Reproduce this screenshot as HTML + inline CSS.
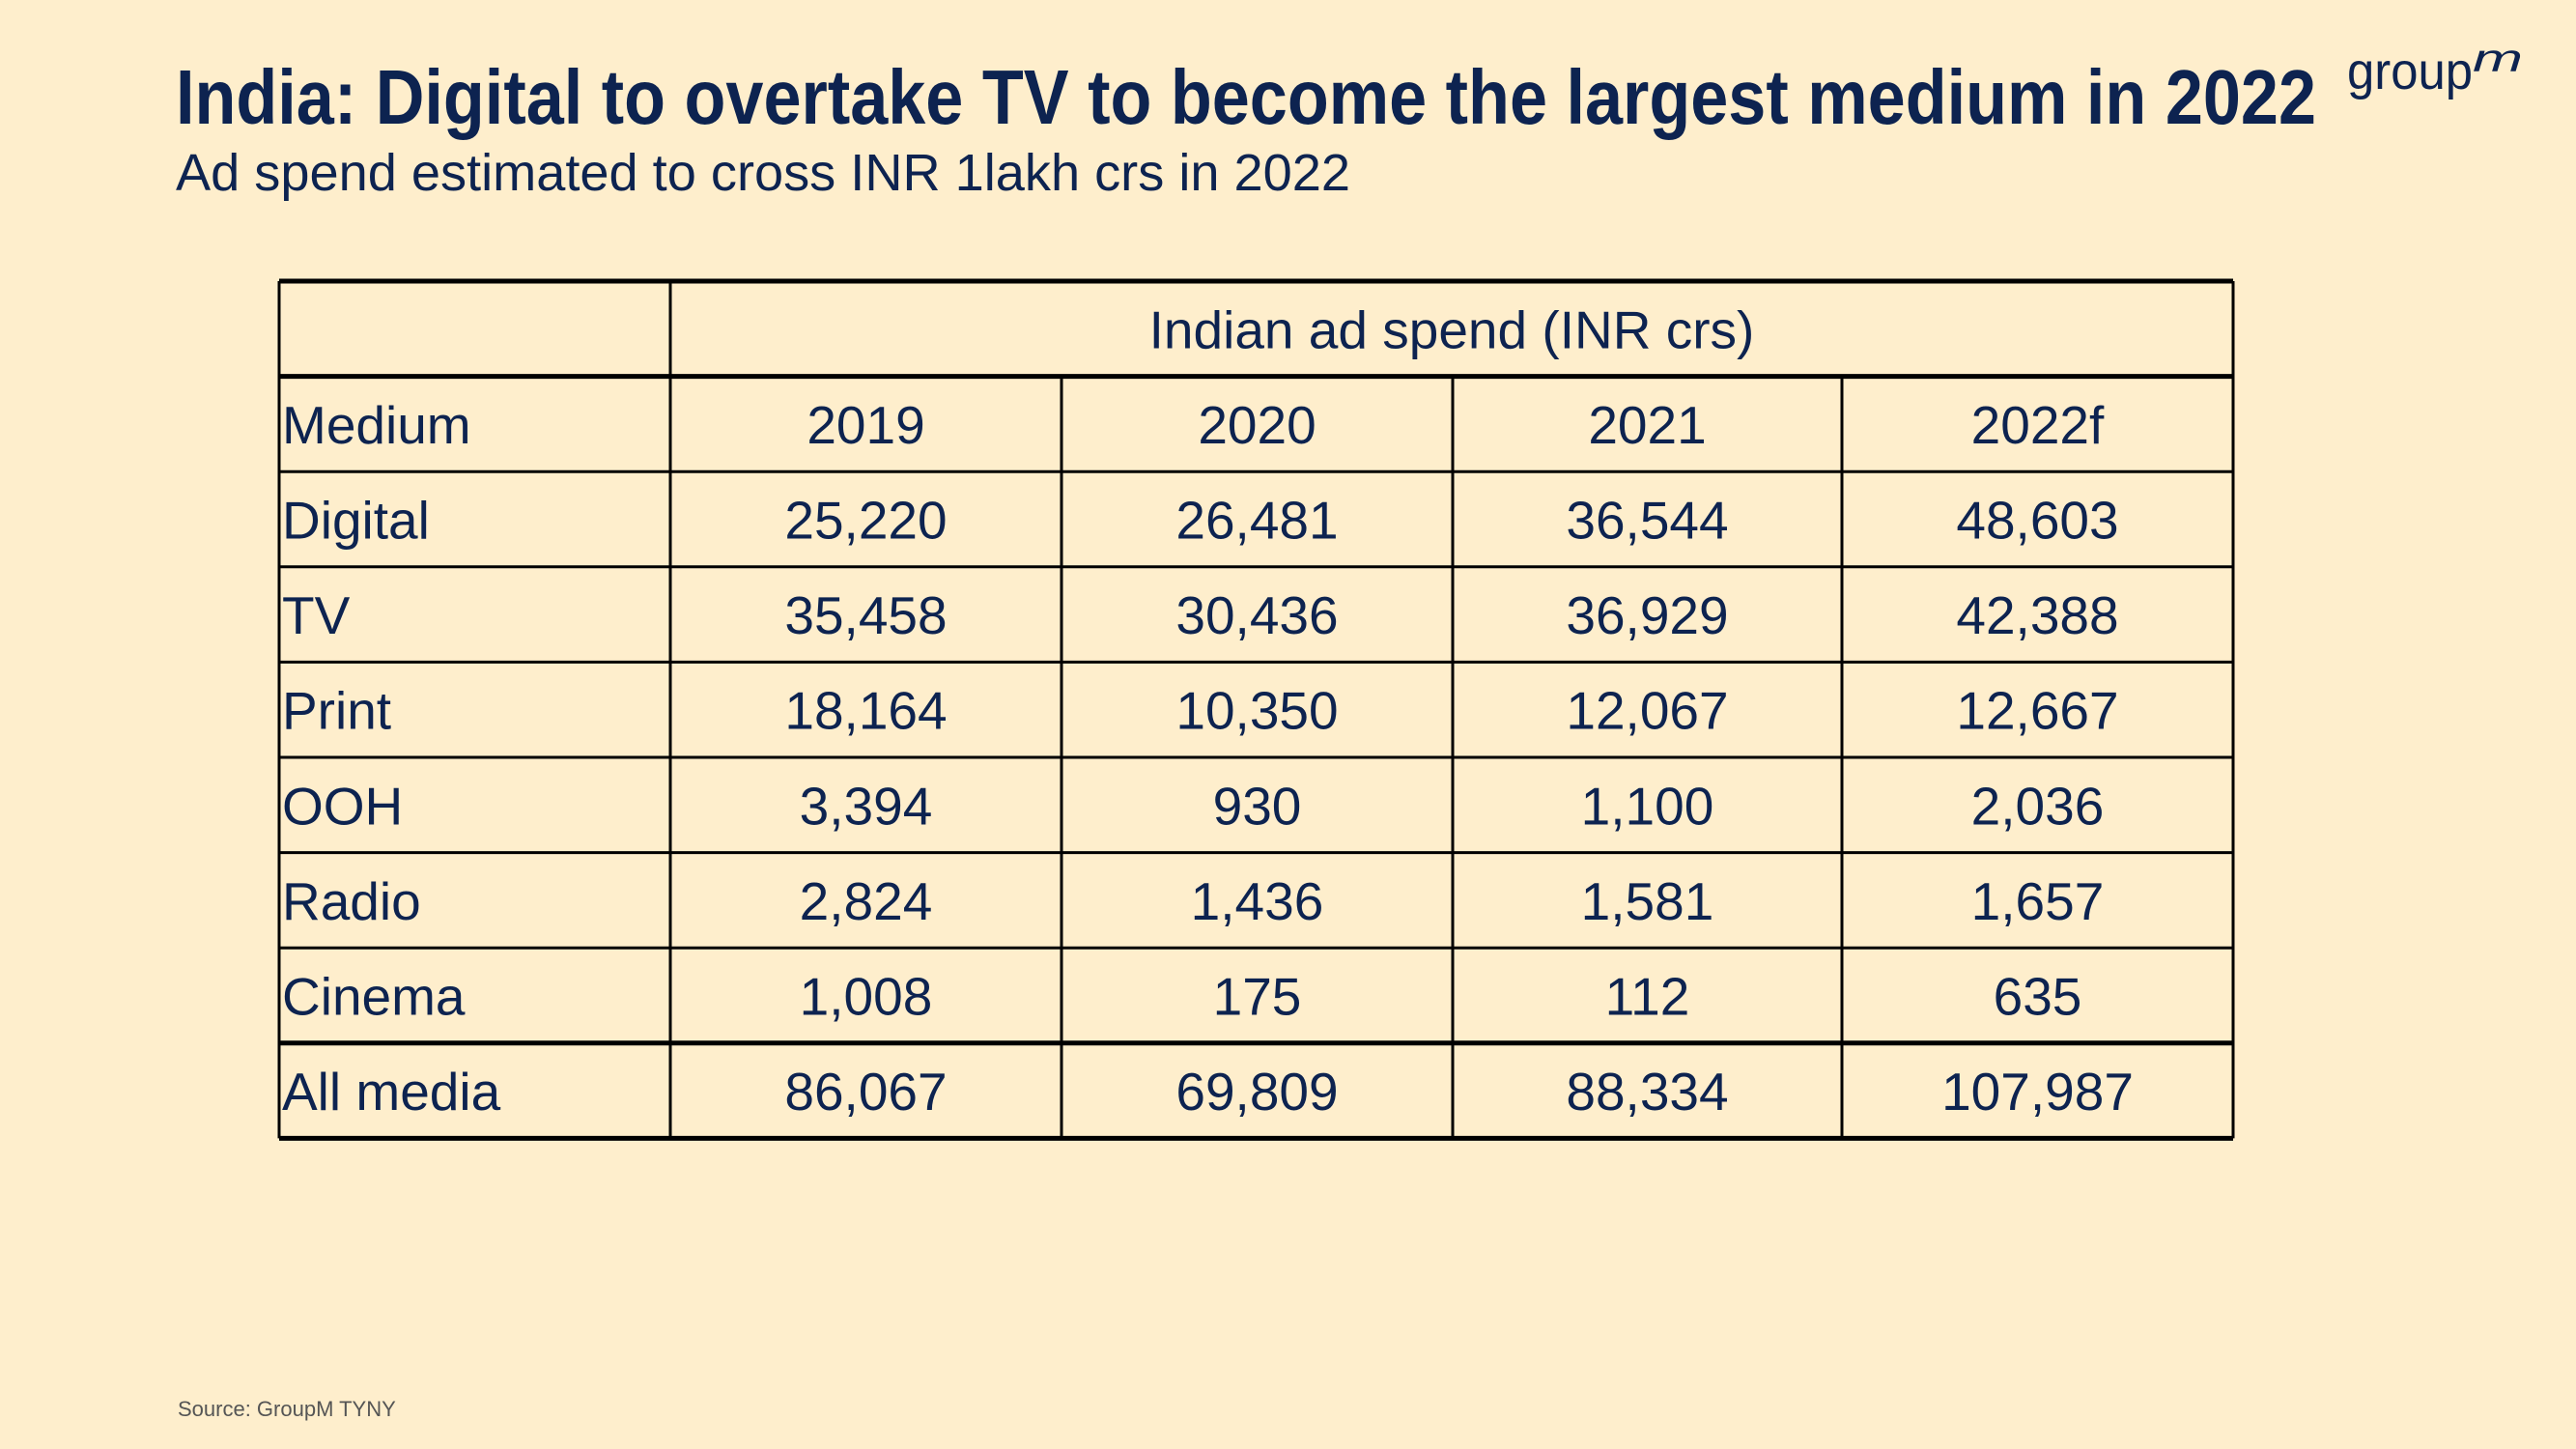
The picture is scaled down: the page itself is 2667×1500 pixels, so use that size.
<!DOCTYPE html>
<html><head><meta charset="utf-8"><style>
html,body{margin:0;padding:0;background:#feeecc;}
svg{display:block;}
</style></head><body>
<svg id="chart" width="2667" height="1500" viewBox="0 0 2667 1500" xmlns="http://www.w3.org/2000/svg" font-family="Liberation Sans, sans-serif">
<rect width="2667" height="1500" fill="#feeecc"/>
<text x="182" y="128" font-size="80" font-weight="bold" fill="#0d2350" textLength="2216" lengthAdjust="spacingAndGlyphs">India: Digital to overtake TV to become the largest medium in 2022</text>
<text x="182" y="197" font-size="54" fill="#0d2350" textLength="1216" lengthAdjust="spacingAndGlyphs">Ad spend estimated to cross INR 1lakh crs in 2022</text>
<g fill="#0d2350">
<text x="2430" y="92" font-size="54" textLength="130" lengthAdjust="spacingAndGlyphs">group</text>
<text x="2560" y="74" font-size="40" font-style="italic" textLength="52" lengthAdjust="spacingAndGlyphs">m</text>
</g>
<g id="table"></g>
<text x="184" y="1466" font-size="22" fill="#555555">Source: GroupM TYNY</text>
</svg>
<script>
const years = ["2019", "2020", "2021", "2022f"];
const media = ["Digital", "TV", "Print", "OOH", "Radio", "Cinema", "All media"];
const v2019 = [25220, 35458, 18164, 3394, 2824, 1008, 86067];
const v2020 = [26481, 30436, 10350, 930, 1436, 175, 69809];
const v2021 = [36544, 36929, 12067, 1100, 1581, 112, 88334];
const v2022 = [48603, 42388, 12667, 2036, 1657, 635, 107987];

const NS = "http://www.w3.org/2000/svg";
const g = document.getElementById("table");
const left = 289, right = 2312, top0 = 291, rowH = 98.6;
const colX = [289, 694, 1099, 1504, 1907, 2312];
const series = [v2019, v2020, v2021, v2022];
const nRows = media.length + 2;
const bottom = top0 + nRows * rowH;
const color = "#0d2350";
function el(tag, attrs, parent) {
  const e = document.createElementNS(NS, tag);
  for (const k in attrs) e.setAttribute(k, attrs[k]);
  parent.appendChild(e);
  return e;
}
function fmt(n) { return n.toLocaleString("en-US"); }
function rowY(i) { return top0 + i * rowH; }
// header text
let t = el("text", {x: (colX[1] + right) / 2, y: rowY(0) + rowH / 2 + 20, "font-size": 55, fill: color, "text-anchor": "middle"}, g);


t.textContent = "Indian ad spend (INR crs)";
t = el("text", {x: 292, y: rowY(1) + rowH / 2 + 20, "font-size": 55, fill: color}, g);


t.textContent = "Medium";
years.forEach((yr, j) => {
  const h = el("text", {x: (colX[j + 1] + colX[j + 2]) / 2, y: rowY(1) + rowH / 2 + 20, "font-size": 55, fill: color, "text-anchor": "middle"}, g);
  
  
  h.textContent = yr;
});
media.forEach((m, i) => {
  const r = i + 2;
  const lab = el("text", {x: 292, y: rowY(r) + rowH / 2 + 20, "font-size": 55, fill: color}, g);
  
  
  lab.textContent = m;
  series.forEach((s, j) => {
    const c = el("text", {x: (colX[j + 1] + colX[j + 2]) / 2, y: rowY(r) + rowH / 2 + 20, "font-size": 55, fill: color, "text-anchor": "middle"}, g);
    
    
    c.textContent = fmt(s[i]);
  });
});
// grid lines
const thick = {0: 5, 1: 5, 8: 5};
thick[nRows] = 5;
for (let i = 0; i <= nRows; i++) {
  const ln = el("line", {x1: left, x2: right, y1: rowY(i), y2: rowY(i), stroke: "#000", "stroke-width": thick[i] || 3}, g);
  
  
}
colX.forEach((x, j) => {
  const y1 = (j >= 2 && j <= 4) ? rowY(1) : top0;
  const ln = el("line", {x1: x, x2: x, y1: y1, y2: bottom, stroke: "#000", "stroke-width": 3}, g);
  
  
});
</script>
</body></html>
